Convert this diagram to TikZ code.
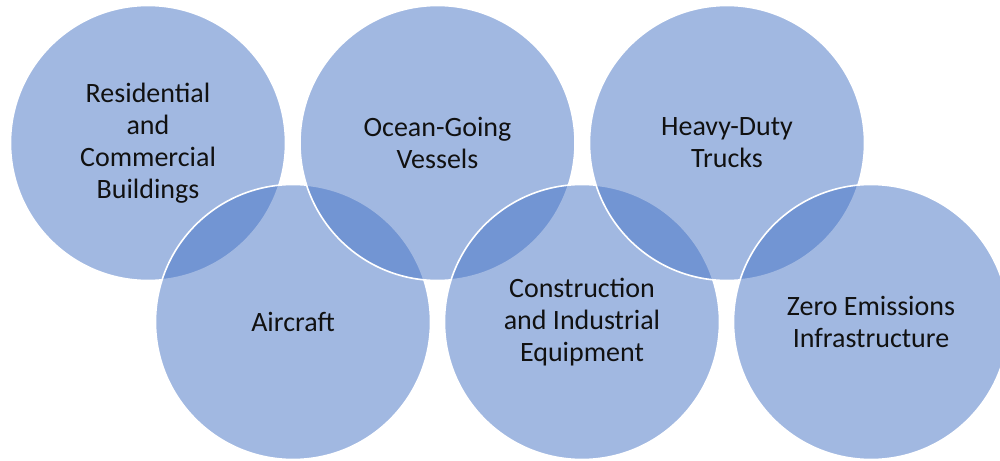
\documentclass[tikz,border=0pt]{standalone}
\usepackage{fontspec}
\setmainfont{Carlito}
\definecolor{acc}{HTML}{4472C4}
\definecolor{txt}{HTML}{111111}
\begin{document}
\begin{tikzpicture}[x=1pt,y=-1pt,
  bub/.style={circle, minimum size=275pt, inner sep=0pt, fill=acc, fill opacity=0.5,
    draw=white, line width=1.6pt, text opacity=1, text=txt, align=center,
    font=\fontsize{28}{32}\selectfont}]
\useasboundingbox (0,0) rectangle (1000,460);
\node[bub] (res) at (148,143) {Residential\\and\\Commercial\\Buildings};
\node[bub] (air) at (293,322) {Aircraft};
\node[bub] (ocean) at (437.5,143) {Ocean-Going\\Vessels};
\node[bub] (cons) at (582,322) {Construction\\and Industrial\\Equipment};
\node[bub] (heavy) at (727,143) {Heavy-Duty\\Trucks};
\node[bub] (zero) at (871,322) {Zero Emissions\\Infrastructure};
\end{tikzpicture}
\end{document}
